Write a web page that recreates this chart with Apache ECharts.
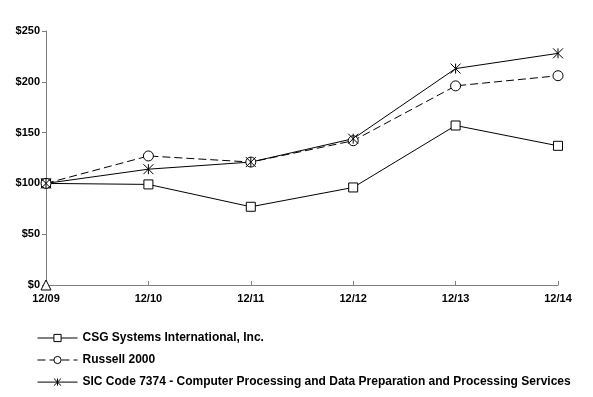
<!DOCTYPE html>
<html>
<head>
<meta charset="utf-8">
<script src="https://cdn.jsdelivr.net/npm/echarts@6/dist/echarts.min.js"></script>
<style>
  html, body { margin: 0; padding: 0; background: #fff; }
  #chart { width: 593px; height: 397px; }
</style>
</head>
<body>
<div id="chart"></div>
<script>
// data
const periods = ["12/09", "12/10", "12/11", "12/12", "12/13", "12/14"];
const csgValues = [100, 99, 77, 96, 157, 137];
const russellValues = [100, 127, 121, 142, 196, 206];
const sicValues = [100, 114, 121, 144, 213, 228];
const strayPoint = [0, null, null, null, null, null];
const yTicks = [0, 50, 100, 150, 200, 250];

const names = [
  "CSG Systems International, Inc.",
  "Russell 2000",
  "SIC Code 7374 - Computer Processing and Data Preparation and Processing Services",
];

const asterisk = "path://M0,0L10,10M10,0L0,10M5,0L5,10";

const chart = echarts.init(document.getElementById("chart"));

const markStyle = { color: "#fff", borderColor: "#000", borderWidth: 1 };

let option = {
  animation: false,
  textStyle: { fontFamily: "Liberation Sans, Arial, sans-serif" },
  grid: { left: 46, right: 35, top: 31, bottom: 112 },
  legend: {
    orient: "vertical",
    left: 32,
    top: 327,
    height: 68,
    itemGap: 10,
    itemWidth: 40,
    itemHeight: 9,
    data: names,
    lineStyle: { width: 1 },
    itemStyle: { borderWidth: 1 },
    textStyle: { fontSize: 12, fontWeight: "bold", color: "#000" },
  },
  xAxis: {
    type: "category",
    data: periods,
    boundaryGap: false,
    axisLine: { lineStyle: { color: "#808080", width: 1 } },
    axisTick: { inside: true, length: 4, lineStyle: { color: "#808080" } },
    axisLabel: { color: "#000", fontWeight: "bold", fontSize: 11, margin: 8 },
  },
  yAxis: {
    type: "value",
    min: yTicks[0],
    max: yTicks[yTicks.length - 1],
    interval: 50,
    splitLine: { show: false },
    axisLine: { show: true, lineStyle: { color: "#808080", width: 1 } },
    axisTick: { show: true, length: 4, lineStyle: { color: "#808080" } },
    axisLabel: {
      color: "#000",
      fontWeight: "bold",
      fontSize: 11,
      margin: 6,
      formatter: (v) => "$" + v,
    },
  },
  series: [
    {
      name: names[0],
      type: "line",
      data: csgValues,
      symbol: "rect",
      symbolSize: 9,
      showAllSymbol: true,
      lineStyle: { color: "#000", width: 1 },
      itemStyle: markStyle,
    },
    {
      name: names[1],
      type: "line",
      data: russellValues,
      symbol: "circle",
      symbolSize: 10,
      showAllSymbol: true,
      lineStyle: { color: "#000", width: 1, type: [8, 4] },
      itemStyle: markStyle,
    },
    {
      name: names[2],
      type: "line",
      data: sicValues,
      symbol: asterisk,
      symbolSize: 10,
      showAllSymbol: true,
      lineStyle: { color: "#000", width: 1 },
      itemStyle: { color: "none", borderColor: "#000", borderWidth: 1 },
    },
    {
      name: "stray",
      type: "line",
      data: strayPoint,
      symbol: "triangle",
      symbolSize: 10,
      showAllSymbol: true,
      lineStyle: { width: 0 },
      itemStyle: markStyle,
    },
  ],
};

chart.setOption(option);
</script>
</body>
</html>
